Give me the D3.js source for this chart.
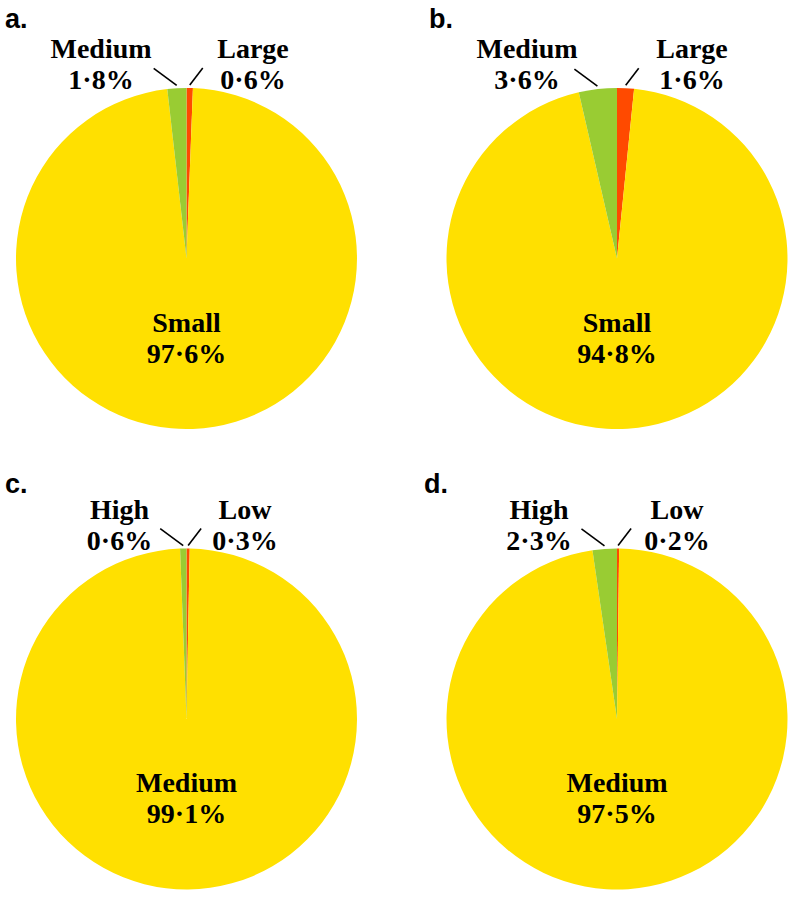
<!DOCTYPE html>
<html>
<head>
<meta charset="utf-8">
<script src="https://cdn.jsdelivr.net/npm/d3@7"></script>
<style>
  body { margin: 0; background: #fff; }
  .lbl { font-family: "Liberation Serif", "Times New Roman", serif; font-weight: bold; font-size: 28px; fill: #000; }
  .letter { font-family: "Liberation Sans", Arial, sans-serif; font-weight: bold; font-size: 27px; fill: #000; }
</style>
</head>
<body>
<div id="chart"></div>
<script>
// panel data: slices are listed clockwise from 12 o'clock
const panels = ["a.", "b.", "c.", "d."];
const categoriesAB = ["Large", "Small", "Medium"];
const categoriesCD = ["Low", "Medium", "High"];
const valuesA = [0.6, 97.6, 1.8];
const valuesB = [1.6, 94.8, 3.6];
const valuesC = [0.3, 99.1, 0.6];
const valuesD = [0.2, 97.5, 2.3];
const labelsA = ["0·6%", "97·6%", "1·8%"];
const labelsB = ["1·6%", "94·8%", "3·6%"];
const labelsC = ["0·3%", "99·1%", "0·6%"];
const labelsD = ["0·2%", "97·5%", "2·3%"];
const sliceColors = ["#ff4a00", "#ffe000", "#99cc33"];

const width = 794, height = 901;
const radius = 170.5;

// layout for each panel (centre, letter, horizontal offsets of the outside labels)
const layout = [
  { cx: 186.5, cy: 258.5, lx: 5,   ly: 28,  leftDx: -85.5, rightDx: 66.5 },
  { cx: 617,   cy: 258.5, lx: 429, ly: 28,  leftDx: -90,   rightDx: 75 },
  { cx: 186.5, cy: 719,   lx: 5,   ly: 493, leftDx: -67,   rightDx: 58.5 },
  { cx: 617,   cy: 719,   lx: 424, ly: 493, leftDx: -78,   rightDx: 60 }
];

const sets = [
  { cats: categoriesAB, vals: valuesA, labs: labelsA },
  { cats: categoriesAB, vals: valuesB, labs: labelsB },
  { cats: categoriesCD, vals: valuesC, labs: labelsC },
  { cats: categoriesCD, vals: valuesD, labs: labelsD }
];

const svg = d3.select("#chart")
  .append("svg")
  .attr("width", width)
  .attr("height", height);

const pie = d3.pie().sort(null).value(d => d.v);
const arc = d3.arc().innerRadius(0).outerRadius(radius);

sets.forEach((s, p) => {
  const L = layout[p];
  const rows = s.cats.map((c, i) => ({ c: c, v: s.vals[i], t: s.labs[i], i: i }));
  const arcs = pie(rows);

  svg.append("text")
    .attr("class", "letter")
    .attr("x", L.lx)
    .attr("y", L.ly)
    .text(panels[p]);

  const g = svg.append("g")
    .attr("transform", `translate(${L.cx},${L.cy})`);

  g.selectAll("path")
    .data(arcs)
    .enter().append("path")
    .attr("d", arc)
    .attr("fill", d => sliceColors[d.data.i]);

  // big slice label in the middle-lower part
  const big = arcs[1];
  g.append("text").attr("class", "lbl")
    .attr("text-anchor", "middle")
    .attr("x", 0).attr("y", 73)
    .text(big.data.c);
  g.append("text").attr("class", "lbl")
    .attr("text-anchor", "middle")
    .attr("x", 0).attr("y", 104)
    .text(big.data.t);

  // small slices: right one (index 0) and left one (index 2)
  [[arcs[0], L.rightDx, 13], [arcs[2], L.leftDx, -23]].forEach(([a, dx, ldx]) => {
    const mid = (a.startAngle + a.endAngle) / 2;
    const ex = Math.sin(mid) * (radius + 3);
    const ey = -Math.cos(mid) * (radius + 3);
    g.append("line")
      .attr("x1", ex).attr("y1", ey)
      .attr("x2", ex + ldx).attr("y2", ey - 17)
      .attr("stroke", "#000")
      .attr("stroke-width", 1.6);
    g.append("text").attr("class", "lbl")
      .attr("text-anchor", "middle")
      .attr("x", dx).attr("y", -radius - 30)
      .text(a.data.c);
    g.append("text").attr("class", "lbl")
      .attr("text-anchor", "middle")
      .attr("x", dx).attr("y", -radius + 1)
      .text(a.data.t);
  });
});
</script>
</body>
</html>
